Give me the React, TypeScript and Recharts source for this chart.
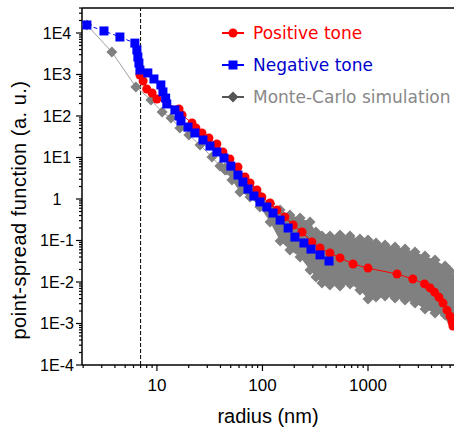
import {
  Area,
  ComposedChart,
  Label,
  Legend,
  ReferenceLine,
  Scatter,
  XAxis,
  YAxis,
} from "recharts";

// radius in nm, point-spread function in a. u.
const positiveRadius = [
  6.9, 7.4, 8.0, 9.0, 10, 16.2, 17.3, 21.5, 23.4, 26.7, 31.1, 37, 42.2, 49.1,
  58.6, 68.3, 76.2, 88.7, 98.7, 118, 137, 163, 195, 237, 294, 351, 436, 544,
  721, 1000, 1884, 2660, 3430, 3870, 4270, 4700, 5140, 5610, 5990, 6250, 6380,
];
const positiveValue = [
  973, 697, 448, 358, 257, 148, 106, 67.8, 51.4, 38.9, 29.5, 21.1, 13.6, 9.2,
  5.9, 3.39, 2.43, 1.65, 1.12, 0.8, 0.54, 0.37, 0.236, 0.16, 0.092, 0.066, 0.05,
  0.038, 0.0272, 0.0216, 0.0156, 0.0118, 0.009, 0.0072, 0.0057, 0.0043, 0.0031,
  0.0021, 0.0015, 0.00109, 0.00087,
];

const negativeRadius = [
  2.17, 3.15, 4.46, 6.18, 6.46, 6.6, 6.75, 6.9, 8.2, 9.37, 10.9, 11.4, 12.1,
  12.4, 14.8, 16.2, 16.9, 19.7, 22.9, 27.3, 31.8, 37, 43.2, 50.2, 58.6, 65.3,
  72.9, 83, 94.6, 110, 126, 147, 175, 203, 247, 288, 351, 427,
];
const negativeValue = [
  15600, 11200, 8000, 5700, 3900, 2640, 1890, 1280, 1090, 780, 560, 380, 270,
  195, 140, 100, 76, 54, 39, 26.4, 18.9, 13.6, 9.7, 6.2, 3.78, 2.57, 1.74, 1.18,
  0.85, 0.64, 0.46, 0.31, 0.2, 0.121, 0.087, 0.062, 0.045, 0.032,
];

const mcRadius = [2.17, 3.74, 6.32, 8.77, 11.2, 13.6, 16.5, 20.1, 25.6, 33.2, 39.5, 46.1];
const mcValue = [15600, 3480, 500, 243, 125, 89.5, 51.4, 34.8, 20.0, 10.3, 6.24, 5.0];

// spread of the Monte-Carlo runs at large radius
const mcBandRadius = [
  44.1, 51.4, 61.2, 76.2, 94.7, 118, 147, 182, 227, 282, 321, 366, 436, 543,
  675, 839, 1000, 1191, 1449, 1803, 2244, 2790, 3470, 4313, 5370, 5990, 6530,
];
const mcBandHigh = [
  5.58, 4.23, 3.03, 1.95, 1.18, 0.758, 0.543, 0.411, 0.348, 0.279, 0.16, 0.128,
  0.128, 0.136, 0.128, 0.109, 0.103, 0.087, 0.078, 0.0697, 0.0624, 0.0528,
  0.0424, 0.0339, 0.0243, 0.0184, 0.0125,
];
const mcBandLow = [
  5.0, 2.87, 1.48, 1.12, 0.642, 0.279, 0.0973, 0.059, 0.04, 0.0195, 0.0132,
  0.00946, 0.00847, 0.008, 0.00896, 0.0064, 0.00389, 0.00435, 0.0046, 0.0041,
  0.00368, 0.00312, 0.00223, 0.00179, 0.0016, 0.00128, 0.00103,
];

const seriesNames = ["Positive tone", "Negative tone", "Monte-Carlo simulation"];
const radiusTicks = [
  2, 3, 4, 5, 6, 7, 8, 9, 10, 20, 30, 40, 50, 60, 70, 80, 90, 100, 200, 300,
  400, 500, 600, 700, 800, 900, 1000, 2000, 3000, 4000, 5000, 6000,
];
const psfExponents = [-4, -3, -2, -1, 0, 1, 2, 3, 4];
const psfTickLabels = ["1E-4", "1E-3", "1E-2", "1E-1", "1", "1E1", "1E2", "1E3", "1E4"];
const psfTicks = psfExponents.flatMap((e) =>
  [1, 2, 3, 4, 5, 6, 7, 8, 9].map((m) => m * 10 ** e).filter((v) => v <= 40000)
);

const zip = (rs: number[], vs: number[]) => rs.map((r, i) => ({ r, v: vs[i] }));
const positiveData = zip(positiveRadius, positiveValue);
const negativeData = zip(negativeRadius, negativeValue);
const mcData = zip(mcRadius, mcValue);
const mcBand = mcBandRadius.map((r, i) => ({ r, lo: mcBandLow[i], hi: mcBandHigh[i] }));
const mcEdge = [...zip(mcBandRadius, mcBandHigh), ...zip(mcBandRadius, mcBandLow)];

const RED = "#ff0000";
const BLUE = "#0000ff";
const GREY = "#808080";
const AXIS_FONT = '"Liberation Sans", Arial, sans-serif';

const isMajor = (v: number) =>
  Math.abs(Math.log10(v) - Math.round(Math.log10(v))) < 1e-6;

function RadiusTick({ x, y, payload }: any) {
  const major = isMajor(payload.value);
  return (
    <g>
      <line x1={x} x2={x} y1={y} y2={y + (major ? 6 : 3)} stroke="#000" strokeWidth={1.2} />
      {major && (
        <text x={x} y={y + 26} textAnchor="middle" fontSize={17} fontFamily={AXIS_FONT} fill="#000">
          {payload.value}
        </text>
      )}
    </g>
  );
}

function PsfTick({ x, y, payload }: any) {
  const major = isMajor(payload.value);
  const label = psfTickLabels[psfExponents.indexOf(Math.round(Math.log10(payload.value)))];
  return (
    <g>
      <line x1={x - (major ? 6 : 3)} x2={x} y1={y} y2={y} stroke="#000" strokeWidth={1.2} />
      {major && (
        <text x={x - 25} y={y} dy="0.35em" textAnchor="middle" fontSize={16} fontFamily={AXIS_FONT} fill="#000">
          {label}
        </text>
      )}
    </g>
  );
}

const circle = (p: any) => <circle cx={p.cx} cy={p.cy} r={4.5} fill={RED} />;
const square = (p: any) => (
  <rect x={p.cx - 4.5} y={p.cy - 4.5} width={9} height={9} fill={BLUE} />
);
const diamond = (p: any) => (
  <polygon
    points={`${p.cx},${p.cy - 5.5} ${p.cx + 5.5},${p.cy} ${p.cx},${p.cy + 5.5} ${p.cx - 5.5},${p.cy}`}
    fill={GREY}
  />
);

function LegendBox() {
  const symbols = [
    { color: RED, text: RED, mark: <circle cx={11} cy={7} r={4.5} fill={RED} /> },
    { color: BLUE, text: "#0000cc", mark: <rect x={6.5} y={2.5} width={9} height={9} fill={BLUE} /> },
    { color: "#555", text: "#888", mark: <polygon points="11,1.5 16.5,7 11,12.5 5.5,7" fill="#555" /> },
  ];
  return (
    <div style={{ fontFamily: '"DejaVu Sans", Verdana, sans-serif', fontSize: 17, whiteSpace: "nowrap" }}>
      {seriesNames.map((name, i) => (
        <div key={name} style={{ display: "flex", alignItems: "center", height: 32 }}>
          <svg width={22} height={14}>
            <line x1={0} x2={22} y1={7} y2={7} stroke={symbols[i].color} strokeWidth={2} />
            {symbols[i].mark}
          </svg>
          <span style={{ marginLeft: 9, color: symbols[i].text }}>{name}</span>
        </div>
      ))}
    </div>
  );
}

export default function App() {
  return (
    <div style={{ position: "absolute", left: 0, top: 0, width: 454, height: 431, overflow: "hidden", background: "#fff" }}>
      <ComposedChart width={454} height={431} margin={{ top: 8, right: 0, bottom: 0, left: 0 }}>
        <XAxis
          dataKey="r"
          type="number"
          scale="log"
          domain={[1.95, 6530]}
          allowDataOverflow
          ticks={radiusTicks}
          interval={0}
          tickSize={0}
          tickMargin={0}
          tickLine={false}
          tick={RadiusTick}
          axisLine={{ stroke: "#000", strokeWidth: 1.5 }}
          height={66}
        >
          <Label
            content={({ viewBox }: any) => (
              <text
                x={viewBox.x + viewBox.width / 2}
                y={viewBox.y + 58}
                textAnchor="middle"
                fontSize={20}
                fontFamily={AXIS_FONT}
                fill="#000"
              >
                radius (nm)
              </text>
            )}
          />
        </XAxis>
        <YAxis
          dataKey="v"
          type="number"
          scale="log"
          domain={[0.0001, 40000]}
          allowDataOverflow
          ticks={psfTicks}
          interval={0}
          tickSize={0}
          tickMargin={0}
          tickLine={false}
          tick={PsfTick}
          axisLine={{ stroke: "#000", strokeWidth: 1.5 }}
          width={82}
        >
          <Label
            content={() => (
              <text
                transform="translate(19,210) rotate(-90)"
                dy="0.35em"
                textAnchor="middle"
                fontSize={20}
                letterSpacing={0.5}
                fontFamily={AXIS_FONT}
                fill="#000"
              >
                point-spread function (a. u.)
              </text>
            )}
          />
        </YAxis>
        <ReferenceLine y={40000} stroke="#000" strokeWidth={1.5} />
        <Area
          data={mcBand}
          dataKey={(d: any) => [d.lo, d.hi]}
          stroke="none"
          fill={GREY}
          fillOpacity={1}
          isAnimationActive={false}
        />
        <Scatter data={mcEdge} shape={diamond} isAnimationActive={false} />
        <Scatter
          data={mcData}
          shape={diamond}
          line={{ stroke: "#a0a0a0", strokeWidth: 1 }}
          isAnimationActive={false}
        />
        <Scatter
          data={positiveData}
          shape={circle}
          line={{ stroke: RED, strokeWidth: 1 }}
          isAnimationActive={false}
        />
        <Scatter
          data={negativeData}
          shape={square}
          line={{ stroke: BLUE, strokeWidth: 1, strokeDasharray: "4 3" }}
          isAnimationActive={false}
        />
        <ReferenceLine x={7} stroke="#000" strokeWidth={1} strokeDasharray="4 2" />
        <Legend
          layout="vertical"
          align="center"
          verticalAlign="middle"
          content={() => <LegendBox />}
          wrapperStyle={{ top: 17, left: 222, width: "auto" }}
        />
      </ComposedChart>
    </div>
  );
}
